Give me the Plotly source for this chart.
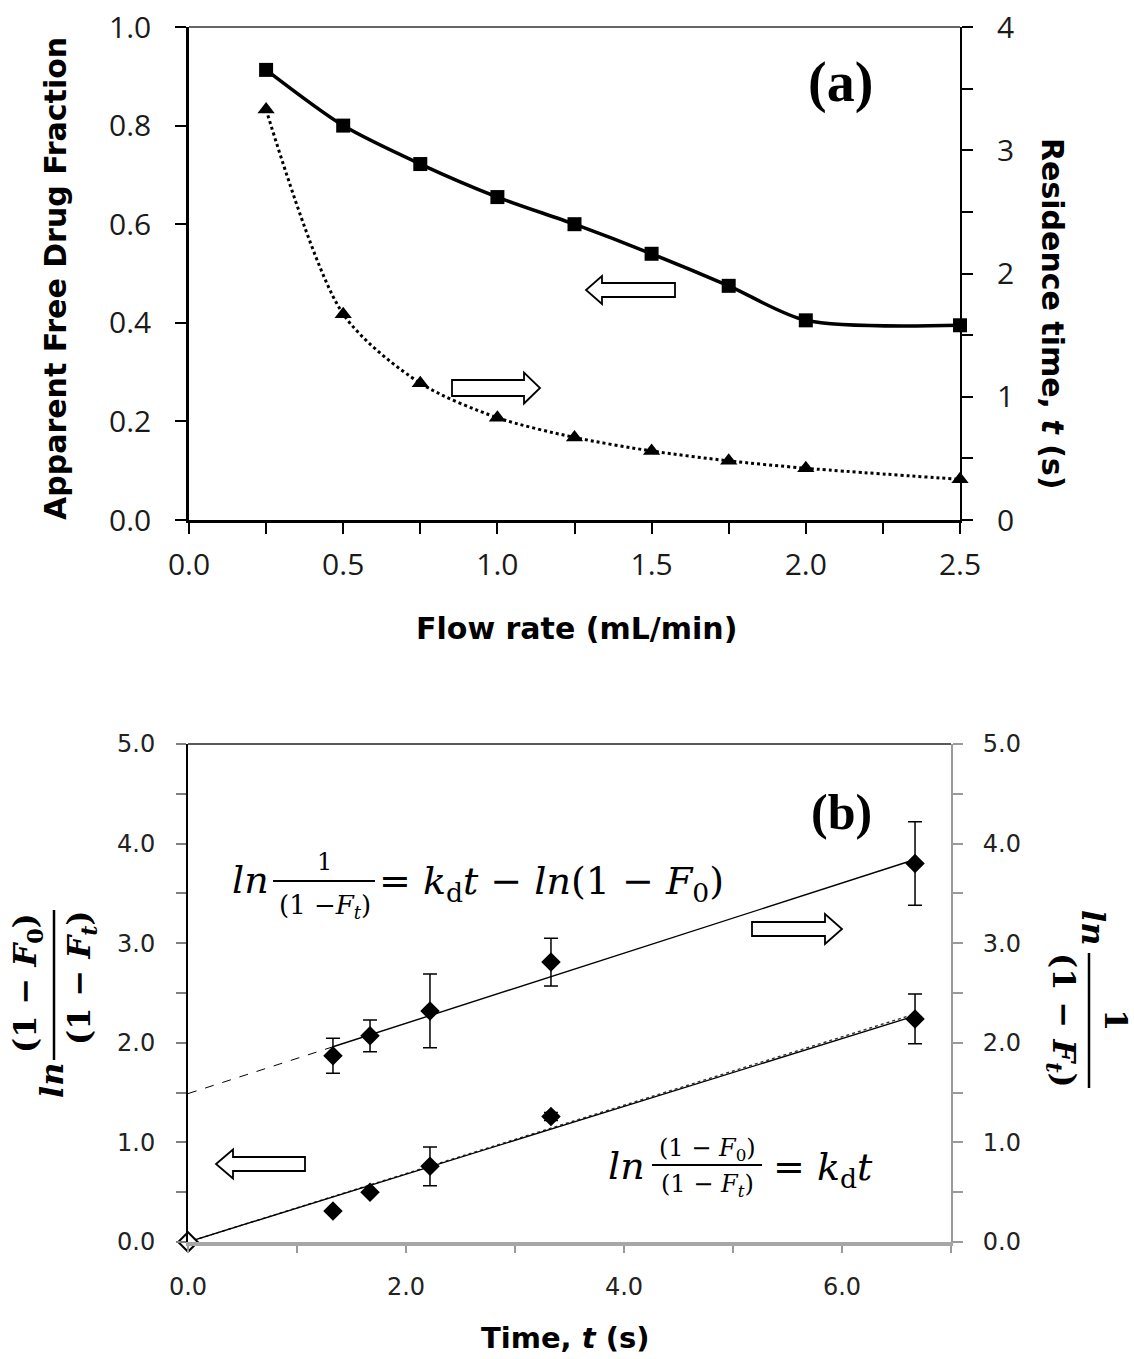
import plotly.graph_objects as go

W, H = 1134, 1359

# ---------------- data: panel (a) ----------------
flow_rate = [0.25, 0.5, 0.75, 1.0, 1.25, 1.5, 1.75, 2.0, 2.5]
free_fraction = [0.913, 0.80, 0.722, 0.655, 0.60, 0.54, 0.475, 0.405, 0.395]
residence_time = [3.33, 1.67, 1.11, 0.83, 0.67, 0.56, 0.48, 0.42, 0.33]

# ---------------- data: panel (b) ----------------
time_s = [1.33, 1.67, 2.22, 3.33, 6.67]
ln_ratio = [0.31, 0.50, 0.76, 1.26, 2.24]
ln_ratio_err = [None, None, 0.195, 0.04, 0.25]
ln_inv = [1.87, 2.07, 2.32, 2.81, 3.80]
ln_inv_err = [0.175, 0.16, 0.37, 0.24, 0.42]
origin_t = [0.0]
origin_v = [0.0]

# trend lines (end points)
fit_low_t = [0.0, 6.67]
fit_low_solid = [0.0, 2.27]
fit_low_dotted = [0.0, 2.29]
fit_up_dash_t = [0.0, 1.33]
fit_up_dash_v = [1.49, 1.96]
fit_up_solid_t = [1.33, 6.67]
fit_up_solid_v = [1.96, 3.84]

# tick labels
xa_ticks = [0, 0.25, 0.5, 0.75, 1.0, 1.25, 1.5, 1.75, 2.0, 2.25, 2.5]
xa_text = ["0.0", "", "0.5", "", "1.0", "", "1.5", "", "2.0", "", "2.5"]
ya_ticks = [0, 0.2, 0.4, 0.6, 0.8, 1.0]
ya_text = ["0.0", "0.2", "0.4", "0.6", "0.8", "1.0"]
ya2_ticks = [0, 0.5, 1, 1.5, 2, 2.5, 3, 3.5, 4]
ya2_text = ["0", "", "1", "", "2", "", "3", "", "4"]
xb_ticks = [0, 1, 2, 3, 4, 5, 6, 7]
xb_text = ["0.0", "", "2.0", "", "4.0", "", "6.0", ""]
yb_ticks = [0, 0.5, 1, 1.5, 2, 2.5, 3, 3.5, 4, 4.5, 5]
yb_text = ["0.0", "", "1.0", "", "2.0", "", "3.0", "", "4.0", "", "5.0"]


def px(x):
    return x / W


def py(y):
    return 1 - y / H


fig = go.Figure()

# panel (a)
fig.add_trace(go.Scatter(x=flow_rate, y=free_fraction, mode="lines+markers",
                         line=dict(color="black", width=3.5, shape="spline", smoothing=0.8),
                         marker=dict(symbol="square", size=14, color="black"),
                         xaxis="x", yaxis="y", cliponaxis=False))
fig.add_trace(go.Scatter(x=flow_rate, y=residence_time, mode="lines+markers",
                         line=dict(color="black", width=3, dash="dot", shape="spline", smoothing=0.8),
                         marker=dict(symbol="triangle-up", size=15, color="black"),
                         xaxis="x", yaxis="y2", cliponaxis=False))

# panel (b) trend lines
fig.add_trace(go.Scatter(x=fit_up_dash_t, y=fit_up_dash_v, mode="lines",
                         line=dict(color="black", width=1, dash="dash"),
                         xaxis="x2", yaxis="y4"))
fig.add_trace(go.Scatter(x=fit_up_solid_t, y=fit_up_solid_v, mode="lines",
                         line=dict(color="black", width=1.4),
                         xaxis="x2", yaxis="y4"))
fig.add_trace(go.Scatter(x=fit_low_t, y=fit_low_dotted, mode="lines",
                         line=dict(color="#333333", width=1.4, dash="dot"),
                         xaxis="x2", yaxis="y3"))
fig.add_trace(go.Scatter(x=fit_low_t, y=fit_low_solid, mode="lines",
                         line=dict(color="black", width=1.4),
                         xaxis="x2", yaxis="y3"))

# panel (b) points
fig.add_trace(go.Scatter(x=time_s, y=ln_inv, mode="markers",
                         marker=dict(symbol="diamond", size=15, color="black"),
                         error_y=dict(type="data", array=ln_inv_err, color="black",
                                      thickness=1.5, width=7),
                         xaxis="x2", yaxis="y4", cliponaxis=False))
fig.add_trace(go.Scatter(x=time_s, y=ln_ratio, mode="markers",
                         marker=dict(symbol="diamond", size=15, color="black"),
                         error_y=dict(type="data", array=ln_ratio_err, color="black",
                                      thickness=1.5, width=7),
                         xaxis="x2", yaxis="y3", cliponaxis=False))
fig.add_trace(go.Scatter(x=origin_t, y=origin_v, mode="markers",
                         marker=dict(symbol="diamond", size=15, color="white",
                                     line=dict(color="black", width=2)),
                         xaxis="x2", yaxis="y3", cliponaxis=False))

# ---------------- axes ----------------
a_x0, a_x1, a_y0, a_y1 = 189, 960, 27, 520
b_x0, b_x1, b_y0, b_y1 = 188, 951, 744, 1242

tick_a = dict(family="Open Sans", size=30, color="#1a1a1a")
tick_b = dict(family="DejaVu Sans", size=24, color="#222222")

common = dict(showgrid=False, zeroline=False, automargin=False, tickmode="array")

fig.update_layout(
    width=W, height=H, margin=dict(l=0, r=0, t=0, b=0, autoexpand=False),
    paper_bgcolor="white", plot_bgcolor="white", showlegend=False,
    xaxis=dict(domain=[px(a_x0), px(a_x1)], range=[0, 2.5], anchor="y",
               tickvals=xa_ticks, ticktext=xa_text,
               ticks="outside", ticklen=11, tickwidth=2, tickcolor="black",
               showline=True, linecolor="black", linewidth=2.5,
               tickfont=tick_a, ticklabelstandoff=5, **common),
    yaxis=dict(domain=[py(a_y1), py(a_y0)], range=[0, 1], anchor="x",
               tickvals=ya_ticks, ticktext=ya_text,
               ticks="outside", ticklen=11, tickwidth=2, tickcolor="black",
               showline=True, linecolor="black", linewidth=2.5,
               tickfont=tick_a, ticklabelstandoff=18, **common),
    yaxis2=dict(domain=[py(a_y1), py(a_y0)], range=[0, 4], anchor="x",
                overlaying="y", side="right",
                tickvals=ya2_ticks, ticktext=ya2_text,
                ticks="outside", ticklen=11, tickwidth=2, tickcolor="black",
                showline=True, linecolor="black", linewidth=2,
                tickfont=tick_a, ticklabelstandoff=18, **common),
    xaxis2=dict(domain=[px(b_x0), px(b_x1)], range=[0, 7], anchor="y3",
                tickvals=xb_ticks, ticktext=xb_text,
                ticks="outside", ticklen=7, tickwidth=2, tickcolor="#9a9a9a",
                showline=True, linecolor="#a6a6a6", linewidth=3.5,
                tickfont=tick_b, ticklabelstandoff=13, **common),
    yaxis3=dict(domain=[py(b_y1), py(b_y0)], range=[0, 5], anchor="x2",
                tickvals=yb_ticks, ticktext=yb_text,
                ticks="outside", ticklen=10, tickwidth=1.5, tickcolor="#808080",
                showline=True, linecolor="black", linewidth=2,
                tickfont=tick_b, ticklabelstandoff=16, **common),
    yaxis4=dict(domain=[py(b_y1), py(b_y0)], range=[0, 5], anchor="x2",
                overlaying="y3", side="right",
                tickvals=yb_ticks, ticktext=yb_text,
                ticks="outside", ticklen=10, tickwidth=1.5, tickcolor="#9a9a9a",
                showline=True, linecolor="#9a9a9a", linewidth=2,
                tickfont=tick_b, ticklabelstandoff=15, **common),
)

shapes = []
# top borders
shapes.append(dict(type="line", xref="paper", yref="paper", x0=px(a_x0), x1=px(a_x1),
                   y0=py(a_y0), y1=py(a_y0), line=dict(color="#333333", width=1.5)))
shapes.append(dict(type="line", xref="paper", yref="paper", x0=px(b_x0), x1=px(b_x1),
                   y0=py(b_y0), y1=py(b_y0), line=dict(color="#222222", width=1.5)))


def hollow_arrow(tail, tip, yc, body_half, head_half, head_len):
    d = 1 if tip > tail else -1
    base = tip - d * head_len
    pts = [(tail, yc - body_half), (base, yc - body_half), (base, yc - head_half),
           (tip, yc), (base, yc + head_half), (base, yc + body_half), (tail, yc + body_half)]
    path = "M " + " L ".join(f"{px(x):.5f},{py(y):.5f}" for x, y in pts) + " Z"
    return dict(type="path", xref="paper", yref="paper", path=path,
                fillcolor="white", line=dict(color="black", width=1.8))


shapes.append(hollow_arrow(675, 586, 290, 7, 14, 16))
shapes.append(hollow_arrow(452, 540, 388, 8, 15.5, 16))
shapes.append(hollow_arrow(305, 216, 1164, 7, 14.5, 17))
shapes.append(hollow_arrow(752, 842, 929, 7, 15, 17))


def hline(x0, x1, y, w=2):
    return dict(type="line", xref="paper", yref="paper", x0=px(x0), x1=px(x1),
                y0=py(y), y1=py(y), line=dict(color="black", width=w))


def vline(x, y0, y1, w=2.5):
    return dict(type="line", xref="paper", yref="paper", x0=px(x), x1=px(x),
                y0=py(y0), y1=py(y1), line=dict(color="black", width=w))


# fraction bars
shapes.append(hline(273, 375, 881, 2))
shapes.append(hline(652, 762, 1165, 2))
shapes.append(vline(54, 910, 1060, 2.5))
shapes.append(vline(1089, 953, 1088, 2.5))

fig.update_layout(shapes=shapes)

ann = []


def text(t, x, y, size, family, xanchor="center", yanchor="middle", angle=0, color="black"):
    ann.append(dict(text=t, x=px(x), y=py(y), xref="paper", yref="paper",
                    xanchor=xanchor, yanchor=yanchor, showarrow=False, textangle=angle,
                    font=dict(size=size, family=family, color=color)))


SANS = "DejaVu Sans"
SERIF = "DejaVu Serif"
TIMES = "Liberation Serif"
NB = "\u00a0"

# axis titles
text("<b>Apparent Free Drug Fraction</b>", 56, 279, 30, SANS, angle=-90)
text("<b>Residence time, <i>t</i> (s)</b>", 1053, 314, 30, SANS, angle=90)
text("<b>Flow rate (mL/min)</b>", 576, 628, 30, SANS)
text("<b>Time, <i>t</i> (s)</b>", 565, 1338, 29, SANS)

# panel labels
text("<b>(a)</b>", 840, 83, 56, TIMES)
text("<b>(b)</b>", 841, 812, 50, TIMES)

# equation 1
text("<i>ln</i>", 230, 880, 38, SERIF, xanchor="left")
text("1", 324, 862, 24, SERIF)
text("(1" + NB + "−<i>F</i><sub><i>t</i></sub>)", 325, 906, 26, SERIF)
text("=" + NB + "<i>k</i><sub>d</sub><i>t</i>" + NB + "−" + NB + "<i>ln</i>(1" + NB + "−" + NB
     + "<i>F</i><sub>0</sub>)", 377, 883, 38, SERIF, xanchor="left")

# equation 2
text("<i>ln</i>", 606, 1166, 38, SERIF, xanchor="left")
text("(1" + NB + "−" + NB + "<i>F</i><sub>0</sub>)", 707, 1149, 24, SERIF)
text("(1" + NB + "−" + NB + "<i>F</i><sub><i>t</i></sub>)", 707, 1185, 24, SERIF)
text("=" + NB + "<i>k</i><sub>d</sub><i>t</i>", 771, 1169, 38, SERIF, xanchor="left")

# left y title of (b)
text("<b><i>ln</i></b>", 52, 1081, 32, SERIF, angle=-90)
text("<b>(1" + NB + "−" + NB + "<i>F</i><sub>0</sub>)</b>", 27, 983, 32, SERIF, angle=-90)
text("<b>(1" + NB + "−" + NB + "<i>F</i><sub><i>t</i></sub>)</b>", 81, 978, 32, SERIF, angle=-90)

# right y title of (b)
text("<b><i>ln</i></b>", 1093, 927, 32, SERIF, angle=90)
text("<b>1</b>", 1116, 1020, 32, SERIF, angle=90)
text("<b>(1" + NB + "−" + NB + "<i>F</i><sub><i>t</i></sub>)</b>", 1062, 1020, 32, SERIF, angle=90)

fig.update_layout(annotations=ann)

fig.write_html("out.html")
